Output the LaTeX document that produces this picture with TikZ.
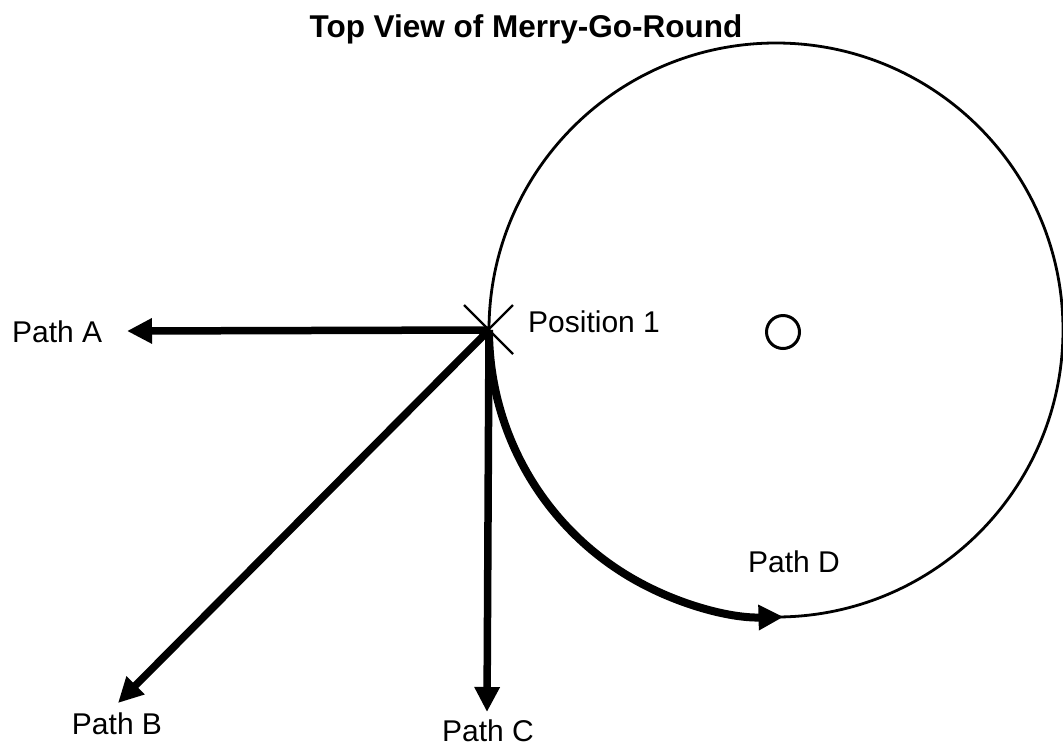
\documentclass[tikz,border=0pt]{standalone}
\usepackage{fontspec}
\setmainfont{Liberation Sans}
\usetikzlibrary{arrows.meta}
\tikzset{
  lbl/.style={inner sep=0pt, font=\fontsize{30}{36}\selectfont},
  ttl/.style={inner sep=0pt, font=\fontsize{31.5}{38}\selectfont\bfseries},
  patharrow/.style={line width=7.5pt, -{Triangle[length=25pt,width=24pt]}},
  rim/.style={line width=2.8pt},
  crossline/.style={line width=2.4pt}
}
\begin{document}
\begin{tikzpicture}[x=1pt,y=-1pt]
\useasboundingbox (0,0) rectangle (1063,748);
% merry-go-round
\coordinate (ctr) at (776,330);
\draw[rim] (ctr) circle[radius=287];
\node[draw, circle, line width=3pt, minimum size=33pt, inner sep=0pt] (hub) at (783,332) {};
% position 1
\coordinate (p1) at (489,330);
\coordinate (x1) at (464,305);
\coordinate (x2) at (513,354);
\coordinate (x3) at (513,305);
\coordinate (x4) at (464,354);
\draw[crossline] (x1) -- (x2);
\draw[crossline] (x3) -- (x4);
% arrow end points
\coordinate (ta) at (127,331);
\coordinate (tb) at (118,703);
\coordinate (tc) at (487,712);
\draw[patharrow] (p1) -- (ta);
\draw[patharrow] (p1) -- (tb);
\draw[patharrow] (p1) -- (tc);
\draw[line width=8pt, -{Triangle[length=25pt,width=24pt]}] (p1) arc[start angle=180, end angle=88.5, radius=287];
% labels
\node[ttl, anchor=base] (title) at (526,37) {Top View of Merry-Go-Round};
\node[lbl, anchor=base west] (lp1) at (528,332) {Position 1};
\node[lbl, anchor=base west] (la) at (12,342) {Path A};
\node[lbl, anchor=base] (lb) at (117,734) {Path B};
\node[lbl, anchor=base] (lc) at (488,741) {Path C};
\node[lbl, anchor=base west] (ld) at (748,572) {Path D};
\end{tikzpicture}
\end{document}
